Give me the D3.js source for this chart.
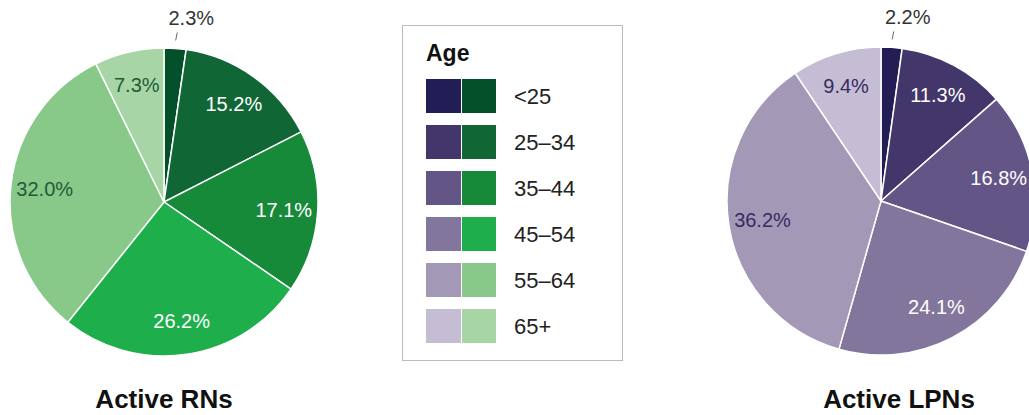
<!DOCTYPE html>
<html><head><meta charset="utf-8">
<script src="https://cdn.jsdelivr.net/npm/d3@7"></script>
<style>body{margin:0;background:#fff;}svg{display:block;font-family:"Liberation Sans",Arial,Helvetica,sans-serif;}</style>
</head><body>
<svg id="c" width="1029" height="415"></svg>
<script>
const ageGroups = ["<25", "25\u201334", "35\u201344", "45\u201354", "55\u201364", "65+"];
const rnValues = [2.3, 15.2, 17.1, 26.2, 32.0, 7.3];
const lpnValues = [2.2, 11.3, 16.8, 24.1, 36.2, 9.4];
const greenColors = ["#03502a", "#116636", "#178a3a", "#1eae4b", "#88c888", "#a8d5a5"];
const purpleColors = ["#221d54", "#43366a", "#635687", "#82769d", "#a399b6", "#c5bdd4"];
const greenLabel = ["#333", "#fff", "#fff", "#fff", "#1f5c35", "#1f5c35"];
const purpleLabel = ["#333", "#fff", "#fff", "#fff", "#362b62", "#362b62"];
const titles = ["Active RNs", "Active LPNs"];

const svg = d3.select("#c");
const R = 154;
const pie = d3.pie().sort(null).value(d => d);
const arc = d3.arc().innerRadius(0).outerRadius(R);
const labelArc = d3.arc().innerRadius(120).outerRadius(120);

function drawPie(cx, cy, values, colors, labelColors, title, titleX) {
  const g = svg.append("g").attr("transform", `translate(${cx},${cy})`);
  const arcs = pie(values);
  g.selectAll("path").data(arcs).join("path")
    .attr("d", arc)
    .attr("fill", (d, i) => colors[i])
    .attr("stroke", "#fff").attr("stroke-width", 1.5);
  arcs.forEach((d, i) => {
    const txt = d.data.toFixed(1) + "%";
    if (d.data < 5) {
      const mid = (d.startAngle + d.endAngle) / 2;
      const p1 = [Math.sin(mid) * (R + 8), -Math.cos(mid) * (R + 8)];
      const p2 = [Math.sin(mid) * (R + 16) + 1, -Math.cos(mid) * (R + 16)];
      g.append("line").attr("x1", p1[0]).attr("y1", p1[1]).attr("x2", p2[0]).attr("y2", p2[1])
        .attr("stroke", "#666").attr("stroke-width", 1);
      g.append("text").attr("x", p2[0] + 14).attr("y", p2[1] - 7)
        .attr("text-anchor", "middle").attr("font-size", 20).attr("fill", labelColors[i]).text(txt);
    } else {
      const c = labelArc.centroid(d);
      g.append("text").attr("x", c[0]).attr("y", c[1])
        .attr("dy", "0.35em").attr("text-anchor", "middle").attr("font-size", 20)
        .attr("fill", labelColors[i]).text(txt);
    }
  });
  svg.append("text").attr("x", titleX).attr("y", 408).attr("text-anchor", "middle")
    .attr("font-size", 26).attr("font-weight", "bold").attr("fill", "#111").text(title);
}

drawPie(164, 202, rnValues, greenColors, greenLabel, titles[0], 164);
drawPie(881, 201, lpnValues, purpleColors, purpleLabel, titles[1], 899);

// Legend
const lg = svg.append("g");
lg.append("rect").attr("x", 402.5).attr("y", 25.5).attr("width", 220).attr("height", 335)
  .attr("fill", "#fff").attr("stroke", "#bbb").attr("stroke-width", 1);
lg.append("text").attr("x", 426).attr("y", 61).attr("font-size", 23).attr("font-weight", "bold")
  .attr("fill", "#111").text("Age");
const rowStep = 46;
ageGroups.forEach((a, i) => {
  const y = 79 + i * rowStep;
  lg.append("rect").attr("x", 426).attr("y", y).attr("width", 35).attr("height", 34).attr("fill", purpleColors[i]);
  lg.append("rect").attr("x", 462).attr("y", y).attr("width", 34).attr("height", 34).attr("fill", greenColors[i]);
  lg.append("text").attr("x", 514).attr("y", y + 17).attr("dy", "0.35em").attr("font-size", 22)
    .attr("fill", "#222").text(a);
});
</script>
</body></html>
